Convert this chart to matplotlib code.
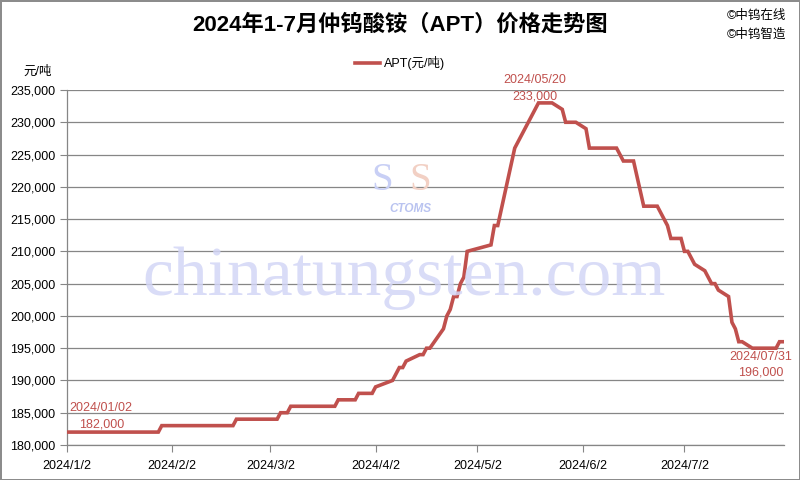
import matplotlib
matplotlib.use("Agg")
import matplotlib.pyplot as plt
from matplotlib.lines import Line2D
import pandas as pd

# ---- data ----
dates = ["2024-01-02", "2024-01-29", "2024-01-30", "2024-02-20", "2024-02-21",
         "2024-03-04", "2024-03-05", "2024-03-07", "2024-03-08", "2024-03-21",
         "2024-03-22", "2024-03-27", "2024-03-28", "2024-04-01", "2024-04-02",
         "2024-04-07", "2024-04-09", "2024-04-10", "2024-04-11", "2024-04-15",
         "2024-04-16", "2024-04-17", "2024-04-18", "2024-04-22", "2024-04-23",
         "2024-04-24", "2024-04-25", "2024-04-26", "2024-04-27", "2024-04-28",
         "2024-04-29", "2024-05-06", "2024-05-07", "2024-05-08", "2024-05-13",
         "2024-05-15", "2024-05-20", "2024-05-24", "2024-05-27", "2024-05-28",
         "2024-05-31", "2024-06-03", "2024-06-04", "2024-06-12", "2024-06-14",
         "2024-06-17", "2024-06-20", "2024-06-24", "2024-06-27", "2024-06-28",
         "2024-07-01", "2024-07-02", "2024-07-03", "2024-07-05", "2024-07-08",
         "2024-07-09", "2024-07-10", "2024-07-11", "2024-07-12", "2024-07-15",
         "2024-07-16", "2024-07-17", "2024-07-18", "2024-07-19", "2024-07-22",
         "2024-07-29", "2024-07-30", "2024-07-31"]
prices = [182000, 182000, 183000, 183000, 184000,
          184000, 185000, 185000, 186000, 186000,
          187000, 187000, 188000, 188000, 189000,
          190000, 192000, 192000, 193000, 194000,
          194000, 195000, 195000, 198000, 200000,
          201000, 203000, 203000, 205000, 206000,
          210000, 211000, 214000, 214000, 226000,
          228000, 233000, 233000, 232000, 230000,
          230000, 229000, 226000, 226000, 224000,
          224000, 217000, 217000, 214000, 212000,
          212000, 210000, 210000, 208000, 207000,
          206000, 205000, 205000, 204000, 203000,
          199000, 198000, 196000, 196000, 195000,
          195000, 196000, 196000]

tick_dates = ["2024-01-02", "2024-02-02", "2024-03-02", "2024-04-02",
              "2024-05-02", "2024-06-02", "2024-07-02"]
tick_labels = ["2024/1/2", "2024/2/2", "2024/3/2", "2024/4/2",
               "2024/5/2", "2024/6/2", "2024/7/2"]
y_ticks = [180000, 185000, 190000, 195000, 200000, 205000,
           210000, 215000, 220000, 225000, 230000, 235000]

title = "2024年1-7月仲钨酸铵（APT）价格走势图"
series_name = "APT(元/吨)"
unit_label = "元/吨"
credits = ["©中钨在线", "©中钨智造"]
annot_idx = [0, 36, len(dates) - 1]
annot_dates = ["2024/01/02", "2024/05/20", "2024/07/31"]

# ---- style ----
plt.rcParams['font.family'] = ['Liberation Sans', 'Noto Sans CJK SC', 'DejaVu Sans']
RED = "#C0504D"
GRAY = "#868686"

fig = plt.figure(figsize=(8, 4.8), dpi=100)
fig.patch.set_facecolor("white")
fig.patch.set_edgecolor("#8c8c8c")
fig.patch.set_linewidth(2)

ax = fig.add_axes([66.7 / 800, 35 / 480, (784 - 66.7) / 800, (445 - 90) / 480])
ax.set_facecolor("none")

# watermark
fig.text(404 / 800, 1 - 278 / 480, "chinatungsten.com", ha="center", va="center",
         fontsize=50, family="Liberation Serif", color="#d3d6f6", alpha=0.85, zorder=0)
fig.text(410 / 800, 1 - 209 / 480, "CTOMS", ha="center", va="center", fontsize=8.5,
         fontweight="bold", style="italic", color="#b9c3f0", zorder=0)
fig.text(382 / 800, 1 - 180 / 480, "S", ha="center", va="center", fontsize=28,
         family="Liberation Serif", color="#c8cff5", zorder=0)
fig.text(420 / 800, 1 - 180 / 480, "S", ha="center", va="center", fontsize=28,
         family="Liberation Serif", color="#f2d0c4", zorder=0)

x = pd.to_datetime(dates)
ax.plot(x, prices, color=RED, lw=2.6, solid_joinstyle="miter", zorder=3)

ax.set_ylim(y_ticks[0], y_ticks[-1])
ax.set_xlim(pd.Timestamp("2024-01-02"), pd.Timestamp("2024-07-31") + pd.Timedelta(hours=8))
ax.set_yticks(y_ticks)
ax.set_yticklabels([f"{v:,}" for v in y_ticks], fontsize=9)
ax.set_xticks(pd.to_datetime(tick_dates))
ax.set_xticklabels(tick_labels, fontsize=9)
ax.tick_params(axis="both", direction="out", length=5, color=GRAY, width=0.8, pad=3)
ax.tick_params(axis="x", pad=6)
for s in ["top", "right"]:
    ax.spines[s].set_visible(False)
for s in ["left", "bottom"]:
    ax.spines[s].set_color(GRAY)
    ax.spines[s].set_linewidth(0.9)
ax.yaxis.grid(True, color=GRAY, lw=0.9)
ax.set_axisbelow(True)

# annotations
offs = [[(3, 24, "left"), (35, 8, "center")],
        [(-4, 23, "center"), (-4, 6, "center")],
        [(-22, -15, "center"), (-22, -31, "center")]]
for k, i in enumerate(annot_idx):
    (dx1, dy1, ha1), (dx2, dy2, ha2) = offs[k]
    ax.annotate(annot_dates[k], (x[i], prices[i]), xytext=(dx1 * 0.72, dy1 * 0.72),
                textcoords="offset points", ha=ha1, va="center", fontsize=9,
                color=RED, annotation_clip=False)
    ax.annotate(f"{prices[i]:,}", (x[i], prices[i]), xytext=(dx2 * 0.72, dy2 * 0.72),
                textcoords="offset points", ha=ha2, va="center", fontsize=9,
                color=RED, annotation_clip=False)

# title, legend, labels
fig.text(0.5, 1 - 25 / 480, title, ha="center", va="center", fontsize=16,
         fontweight="bold", family=["Liberation Sans", "Noto Sans CJK SC"])
handle = Line2D([], [], color=RED, lw=2.6)
fig.legend([handle], [series_name], loc="center", bbox_to_anchor=(400 / 800, 1 - 63 / 480),
           frameon=False, fontsize=9, handlelength=2.0, handletextpad=0.3)
fig.text(38 / 800, 1 - 72 / 480, unit_label, ha="center", va="center", fontsize=9)
fig.text(727 / 800, 1 - 16 / 480, credits[0], ha="left", va="center", fontsize=9)
fig.text(727 / 800, 1 - 35 / 480, credits[1], ha="left", va="center", fontsize=9)

fig.savefig("out.png", dpi=100)
